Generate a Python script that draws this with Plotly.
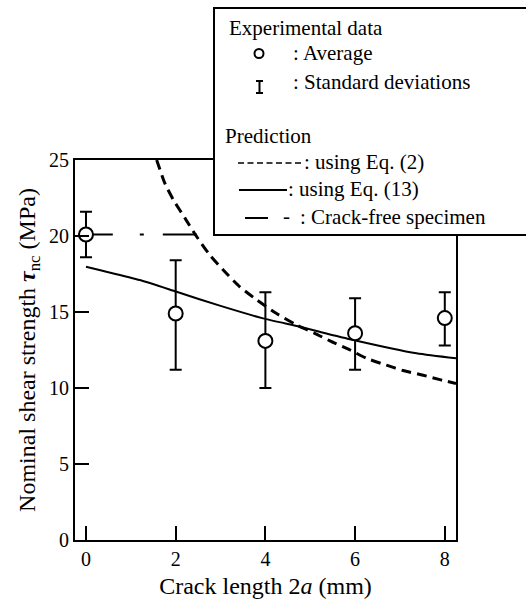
import plotly.graph_objects as go

# ---------------- data ----------------
crack_len = [0, 2, 4, 6, 8]
avg_strength = [20.1, 14.9, 13.1, 13.6, 14.6]
sd_upper = [21.6, 18.4, 16.3, 15.9, 16.3]
sd_lower = [18.6, 11.2, 10.0, 11.2, 12.8]

eq13_x = [0, 0.39, 1.2, 2.02, 3.0, 3.95, 4.77, 5.21, 5.96, 7.37, 8.25]
eq13_y = [17.98, 17.7, 17.1, 16.33, 15.4, 14.58, 14.03, 13.7, 13.16, 12.28, 11.95]

eq2_x = [1.576, 1.76, 1.95, 2.21, 2.47, 2.76, 3.06, 3.43, 3.81, 4.25, 4.70,
         5.10, 5.44, 5.89, 6.26, 6.7, 7.07, 7.52, 7.89, 8.25]
eq2_y = [25.0, 23.46, 22.37, 21.16, 19.95, 18.75, 17.76, 16.66, 15.79, 14.9, 14.14,
         13.6, 13.1, 12.5, 11.95, 11.5, 11.15, 10.84, 10.55, 10.3]

crack_free_x = [-0.16, 8.25]
crack_free_y = [20.1, 20.1]

x_ticks = [0, 2, 4, 6, 8]
y_ticks = [0, 5, 10, 15, 20, 25]

FONT = "Liberation Serif, Times New Roman, serif"

# plot-area geometry (pixels) used for the hand-drawn legend box
W, H = 526, 601
L, R, T, B = 75, 70, 160, 61
PW, PH = W - L - R, H - T - B


def px(xp):
    return (xp - L) / PW


def py(yp):
    return (H - B - yp) / PH


fig = go.Figure()

fig.add_trace(go.Scatter(
    x=crack_free_x, y=crack_free_y, mode="lines",
    line=dict(color="black", width=2, dash="34px,27px,4px,19px"),
    name="Crack-free specimen", showlegend=False))

fig.add_trace(go.Scatter(
    x=eq13_x, y=eq13_y, mode="lines",
    line=dict(color="black", width=2, shape="spline", smoothing=0.6),
    name="using Eq. (13)", showlegend=False))

fig.add_trace(go.Scatter(
    x=eq2_x, y=eq2_y, mode="lines",
    line=dict(color="black", width=3, dash="10px,6px", shape="spline", smoothing=0.6),
    name="using Eq. (2)", showlegend=False))

fig.add_trace(go.Scatter(
    x=crack_len, y=avg_strength, mode="markers",
    marker=dict(symbol="circle", size=14, color="white",
                line=dict(color="black", width=2)),
    error_y=dict(type="data", symmetric=False,
                 array=[u - m for u, m in zip(sd_upper, avg_strength)],
                 arrayminus=[m - l for m, l in zip(avg_strength, sd_lower)],
                 color="black", thickness=2, width=6),
    name="Average", showlegend=False))

# ---------------- legend box (drawn by hand) ----------------
shapes = [
    dict(type="rect", xref="paper", yref="paper",
         x0=px(214), x1=px(545), y0=py(235), y1=py(8),
         line=dict(color="black", width=2), fillcolor="white", layer="above"),
    # circle symbol
    dict(type="circle", xref="paper", yref="paper",
         x0=px(254.5), x1=px(263.5), y0=py(58), y1=py(49),
         line=dict(color="black", width=2), fillcolor="white", layer="above"),
    # error-bar symbol
    dict(type="line", xref="paper", yref="paper",
         x0=px(259.5), x1=px(259.5), y0=py(81), y1=py(93),
         line=dict(color="black", width=2), layer="above"),
    dict(type="line", xref="paper", yref="paper",
         x0=px(256), x1=px(263), y0=py(81), y1=py(81),
         line=dict(color="black", width=2), layer="above"),
    dict(type="line", xref="paper", yref="paper",
         x0=px(256), x1=px(263), y0=py(93), y1=py(93),
         line=dict(color="black", width=2), layer="above"),
    # Eq. (2) dashed sample
    dict(type="line", xref="paper", yref="paper",
         x0=px(238), x1=px(303), y0=py(163), y1=py(163),
         line=dict(color="black", width=1.5, dash="6px,3.5px"), layer="above"),
    # Eq. (13) solid sample
    dict(type="line", xref="paper", yref="paper",
         x0=px(239), x1=px(287), y0=py(190), y1=py(190),
         line=dict(color="black", width=2), layer="above"),
    # crack-free sample
    dict(type="line", xref="paper", yref="paper",
         x0=px(245), x1=px(268), y0=py(218), y1=py(218),
         line=dict(color="black", width=2), layer="above"),
]

legend_texts = [
    ("Experimental data", 227, 28),
    (": Average", 291, 53),
    (": Standard deviations", 291, 82),
    ("Prediction", 223, 136),
    (": using Eq. (2)", 302, 162),
    (": using Eq. (13)", 286, 189),
    ("-", 281, 216),
    (": Crack-free specimen", 298, 217),
]
annotations = [
    dict(text=t, x=px(xp), y=py(yp), xref="paper", yref="paper",
         xanchor="left", yanchor="middle", showarrow=False,
         font=dict(family=FONT, size=21, color="black"))
    for t, xp, yp in legend_texts
]

axis_common = dict(
    showline=True, linecolor="black", linewidth=2, mirror=True,
    ticks="inside", ticklen=14, tickwidth=2, tickcolor="black",
    showgrid=False, zeroline=False, automargin=False,
    tickfont=dict(family=FONT, size=20, color="black"),
)

fig.update_layout(
    width=W, height=H,
    margin=dict(l=L, r=R, t=T, b=B, pad=0, autoexpand=False),
    plot_bgcolor="white", paper_bgcolor="white",
    font=dict(family=FONT, color="black"),
    xaxis=dict(range=[-0.245, 8.25], tickvals=x_ticks,
               title=dict(text="Crack length 2<i>a</i> (mm)",
                          font=dict(family=FONT, size=24, color="black"),
                          standoff=8),
               **axis_common),
    yaxis=dict(range=[0, 25], tickvals=y_ticks,
               title=dict(text="Nominal shear strength <b><i>τ</i></b><sub>nc</sub> (MPa)",
                          font=dict(family=FONT, size=24, color="black"),
                          standoff=7),
               **axis_common),
    shapes=shapes,
    annotations=annotations,
    showlegend=False,
)

fig.write_html("out.html")
